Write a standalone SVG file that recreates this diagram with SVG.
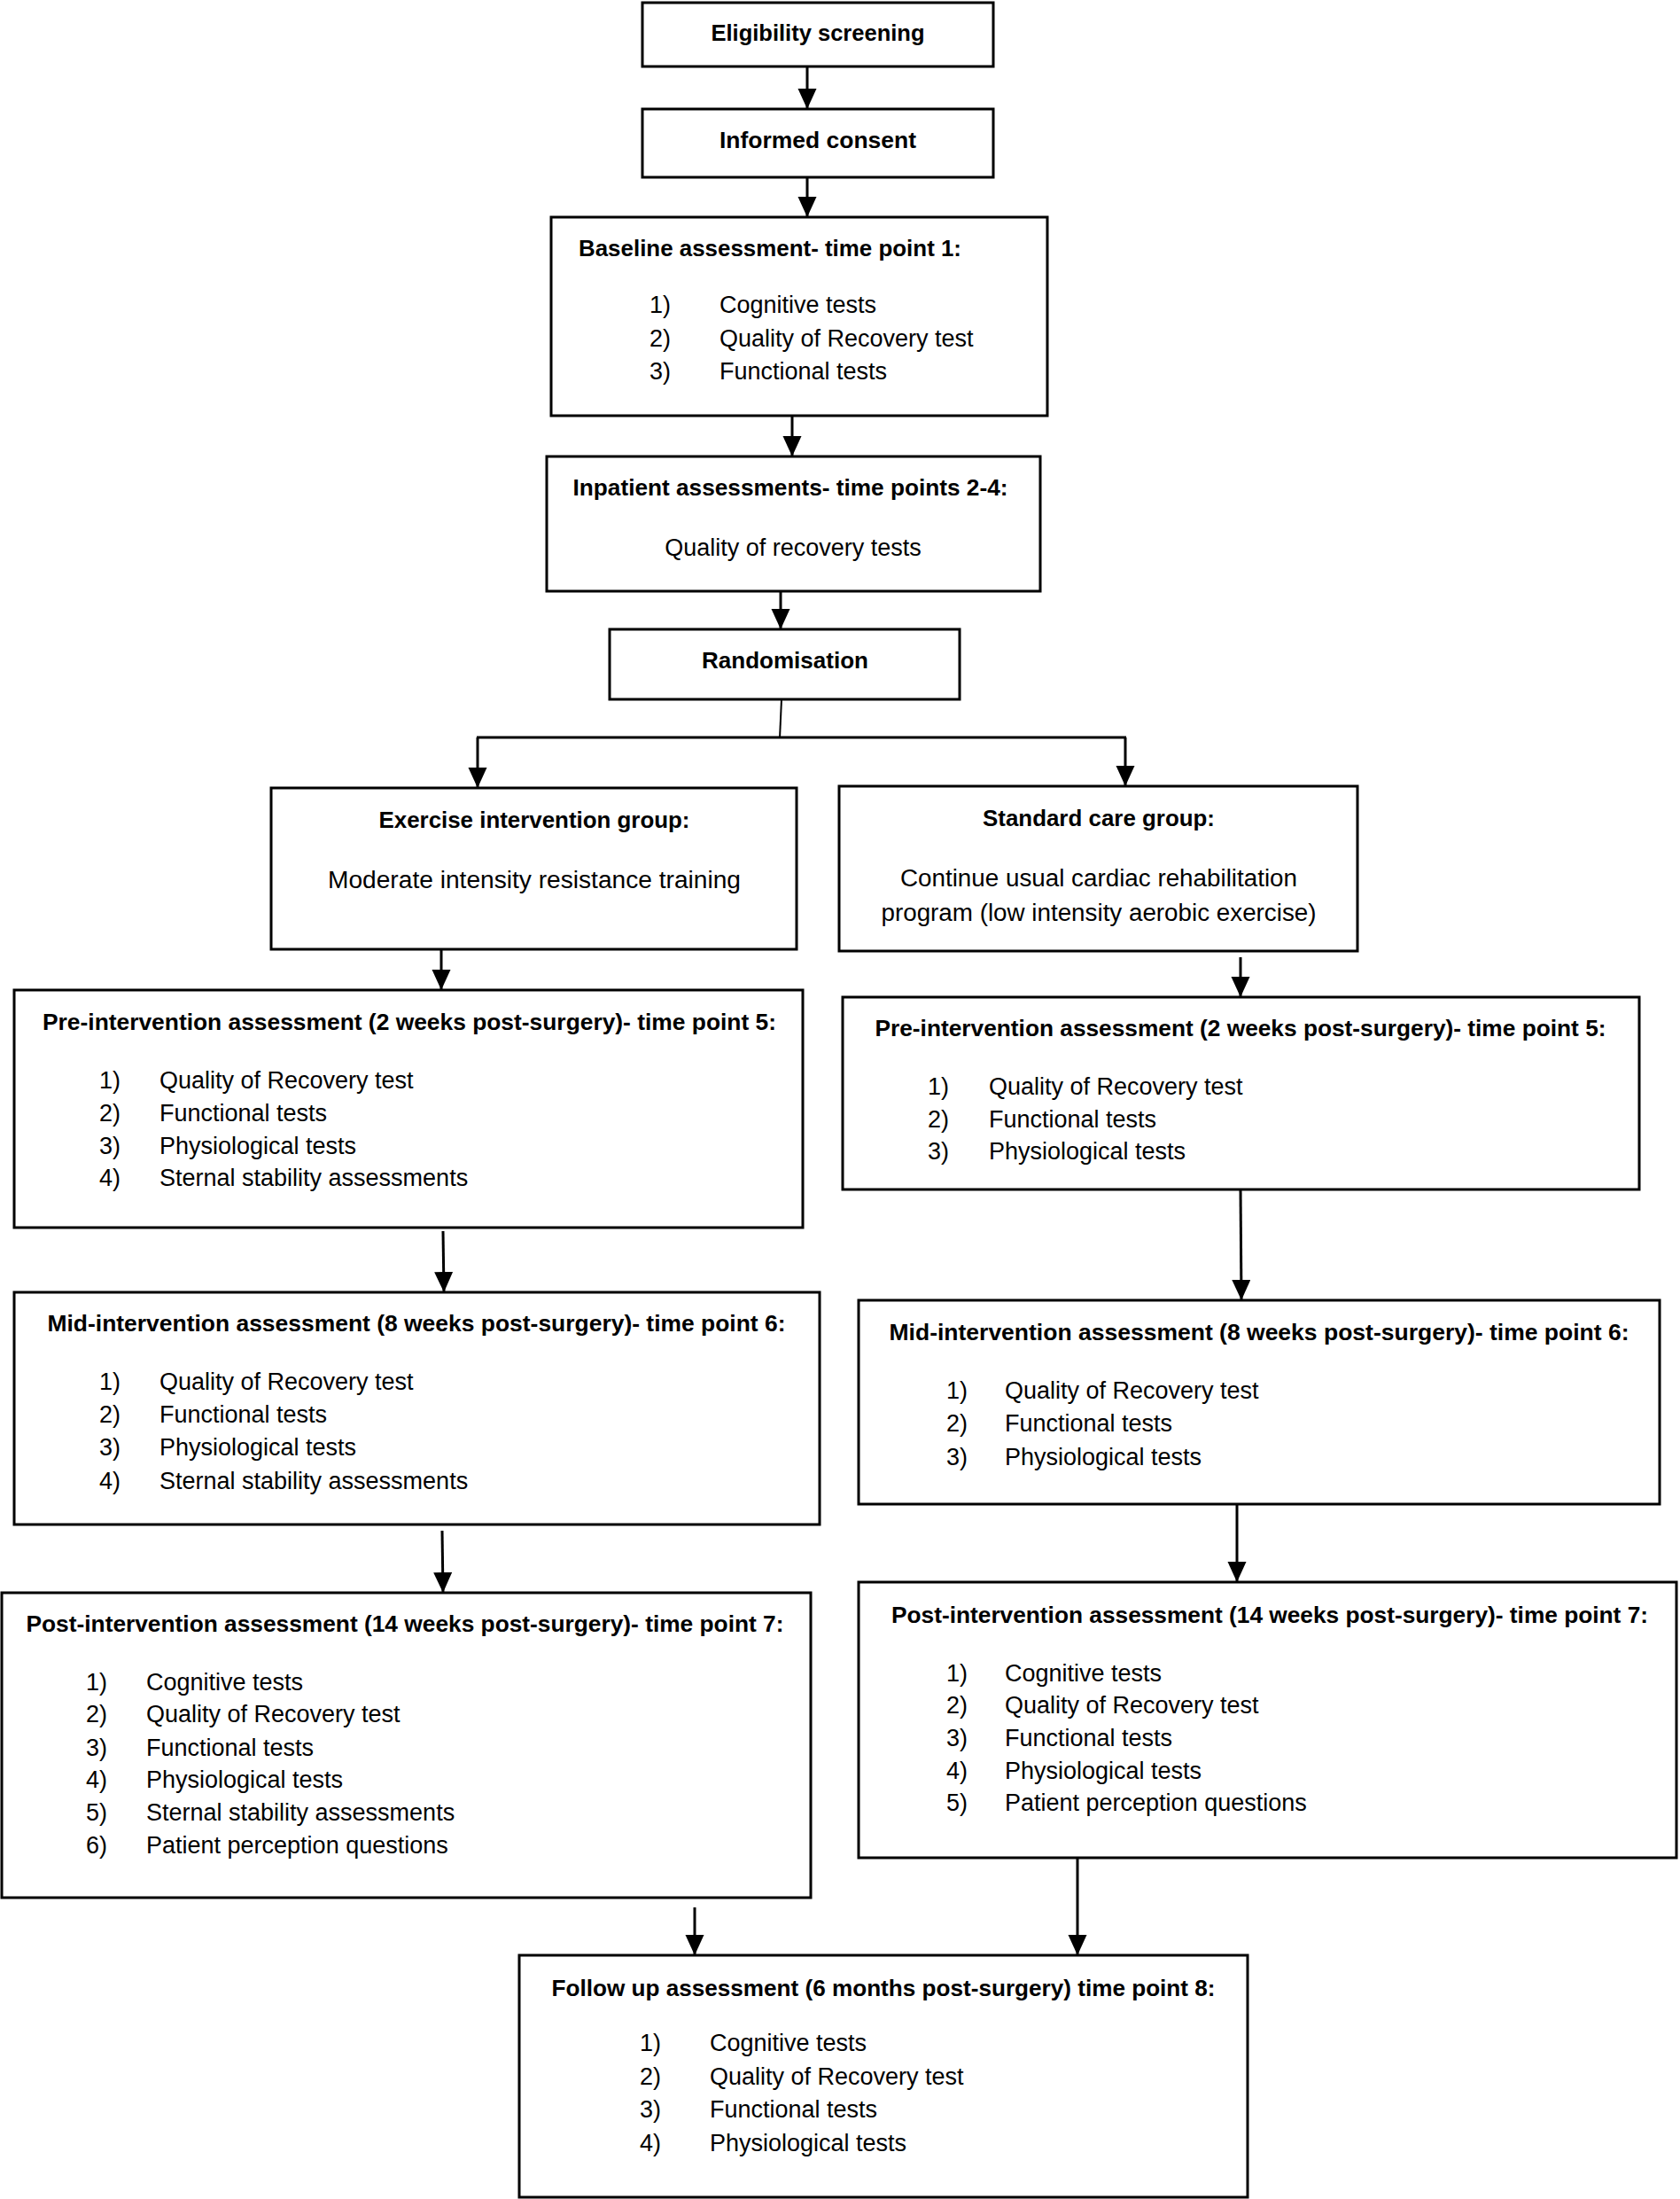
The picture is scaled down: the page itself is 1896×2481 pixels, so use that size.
<svg xmlns="http://www.w3.org/2000/svg" width="1896" height="2481" viewBox="0 0 1896 2481">
<style>
.box{fill:#fff;stroke:#000;stroke-width:3}
.t{font-family:"Liberation Sans",Arial,sans-serif;font-size:26px;font-weight:bold;fill:#000;text-anchor:middle}
.r{font-family:"Liberation Sans",Arial,sans-serif;font-size:27px;fill:#000}
.rc{font-family:"Liberation Sans",Arial,sans-serif;font-size:27px;fill:#000;text-anchor:middle}
.c{fill:none;stroke:#000;stroke-width:3}
</style>
<defs>
<marker id="ah" markerUnits="userSpaceOnUse" markerWidth="25" markerHeight="22" refX="23" refY="10.5" orient="auto" viewBox="0 0 25 22">
<path d="M0,0 L23,10.5 L0,21 z" fill="#000"/>
</marker>
</defs>
<rect width="1896" height="2481" fill="#fff"/>
<g id="connectors">
<line class="c" x1="911" y1="75" x2="911" y2="123" marker-end="url(#ah)"/>
<line class="c" x1="911" y1="200" x2="911" y2="245" marker-end="url(#ah)"/>
<line class="c" x1="894" y1="469" x2="894" y2="515" marker-end="url(#ah)"/>
<line class="c" x1="881" y1="667" x2="881" y2="710" marker-end="url(#ah)"/>
<line class="c" x1="882" y1="789" x2="880" y2="833" style="stroke-width:2"/>
<line class="c" x1="538" y1="832" x2="1271" y2="832"/>
<line class="c" x1="539" y1="832" x2="539" y2="889" marker-end="url(#ah)"/>
<line class="c" x1="1270" y1="832" x2="1270" y2="887" marker-end="url(#ah)"/>
<line class="c" x1="498" y1="1071" x2="498" y2="1117" marker-end="url(#ah)"/>
<line class="c" x1="1400" y1="1080" x2="1400" y2="1125" marker-end="url(#ah)"/>
<line class="c" x1="500" y1="1389" x2="501" y2="1458" marker-end="url(#ah)"/>
<line class="c" x1="1400" y1="1342" x2="1401" y2="1467" marker-end="url(#ah)"/>
<line class="c" x1="499" y1="1727" x2="500" y2="1797" marker-end="url(#ah)"/>
<line class="c" x1="1396" y1="1697" x2="1396" y2="1785" marker-end="url(#ah)"/>
<line class="c" x1="784" y1="2152" x2="784" y2="2206" marker-end="url(#ah)"/>
<line class="c" x1="1216" y1="2096" x2="1216" y2="2206" marker-end="url(#ah)"/>
</g>
<g id="n1">
<rect class="box" x="725" y="3" width="396" height="72"/>
<text class="t" x="923" y="46" textLength="241" lengthAdjust="spacingAndGlyphs">Eligibility screening</text>
</g>
<g id="n2">
<rect class="box" x="725" y="123" width="396" height="77"/>
<text class="t" x="923" y="167" textLength="222" lengthAdjust="spacingAndGlyphs">Informed consent</text>
</g>
<g id="n3">
<rect class="box" x="622" y="245" width="560" height="224"/>
<text class="t" x="869" y="289" textLength="432" lengthAdjust="spacingAndGlyphs">Baseline assessment- time point 1:</text>
<text class="r" x="733" y="353">1)</text><text class="r" x="812" y="353">Cognitive tests</text>
<text class="r" x="733" y="391">2)</text><text class="r" x="812" y="391">Quality of Recovery test</text>
<text class="r" x="733" y="428">3)</text><text class="r" x="812" y="428">Functional tests</text>
</g>
<g id="n4">
<rect class="box" x="617" y="515" width="557" height="152"/>
<text class="t" x="892" y="559" textLength="491" lengthAdjust="spacingAndGlyphs">Inpatient assessments- time points 2-4:</text>
<text class="rc" x="895" y="627">Quality of recovery tests</text>
</g>
<g id="n5">
<rect class="box" x="688" y="710" width="395" height="79"/>
<text class="t" x="886" y="754" textLength="188" lengthAdjust="spacingAndGlyphs">Randomisation</text>
</g>
<g id="n6">
<rect class="box" x="306" y="889" width="593" height="182"/>
<text class="t" x="603" y="934" textLength="351" lengthAdjust="spacingAndGlyphs">Exercise intervention group:</text>
<text class="rc" x="603" y="1002" textLength="466" lengthAdjust="spacingAndGlyphs">Moderate intensity resistance training</text>
</g>
<g id="n7">
<rect class="box" x="947" y="887" width="585" height="186"/>
<text class="t" x="1240" y="932" textLength="262" lengthAdjust="spacingAndGlyphs">Standard care group:</text>
<text class="rc" x="1240" y="1000" textLength="448" lengthAdjust="spacingAndGlyphs">Continue usual cardiac rehabilitation</text>
<text class="rc" x="1240" y="1039" textLength="491" lengthAdjust="spacingAndGlyphs">program (low intensity aerobic exercise)</text>
</g>
<g id="n8">
<rect class="box" x="16" y="1117" width="890" height="268"/>
<text class="t" x="462" y="1162" textLength="828" lengthAdjust="spacingAndGlyphs">Pre-intervention assessment (2 weeks post-surgery)- time point 5:</text>
<text class="r" x="112" y="1228">1)</text><text class="r" x="180" y="1228">Quality of Recovery test</text>
<text class="r" x="112" y="1265">2)</text><text class="r" x="180" y="1265">Functional tests</text>
<text class="r" x="112" y="1302">3)</text><text class="r" x="180" y="1302">Physiological tests</text>
<text class="r" x="112" y="1338">4)</text><text class="r" x="180" y="1338">Sternal stability assessments</text>
</g>
<g id="n9">
<rect class="box" x="951" y="1125" width="899" height="217"/>
<text class="t" x="1400" y="1169" textLength="825" lengthAdjust="spacingAndGlyphs">Pre-intervention assessment (2 weeks post-surgery)- time point 5:</text>
<text class="r" x="1047" y="1235">1)</text><text class="r" x="1116" y="1235">Quality of Recovery test</text>
<text class="r" x="1047" y="1272">2)</text><text class="r" x="1116" y="1272">Functional tests</text>
<text class="r" x="1047" y="1308">3)</text><text class="r" x="1116" y="1308">Physiological tests</text>
</g>
<g id="n10">
<rect class="box" x="16" y="1458" width="909" height="262"/>
<text class="t" x="470" y="1502" textLength="833" lengthAdjust="spacingAndGlyphs">Mid-intervention assessment (8 weeks post-surgery)- time point 6:</text>
<text class="r" x="112" y="1568">1)</text><text class="r" x="180" y="1568">Quality of Recovery test</text>
<text class="r" x="112" y="1605">2)</text><text class="r" x="180" y="1605">Functional tests</text>
<text class="r" x="112" y="1642">3)</text><text class="r" x="180" y="1642">Physiological tests</text>
<text class="r" x="112" y="1680">4)</text><text class="r" x="180" y="1680">Sternal stability assessments</text>
</g>
<g id="n11">
<rect class="box" x="969" y="1467" width="904" height="230"/>
<text class="t" x="1421" y="1512" textLength="835" lengthAdjust="spacingAndGlyphs">Mid-intervention assessment (8 weeks post-surgery)- time point 6:</text>
<text class="r" x="1068" y="1578">1)</text><text class="r" x="1134" y="1578">Quality of Recovery test</text>
<text class="r" x="1068" y="1615">2)</text><text class="r" x="1134" y="1615">Functional tests</text>
<text class="r" x="1068" y="1653">3)</text><text class="r" x="1134" y="1653">Physiological tests</text>
</g>
<g id="n12">
<rect class="box" x="2" y="1797" width="913" height="344"/>
<text class="t" x="457" y="1841" textLength="855" lengthAdjust="spacingAndGlyphs">Post-intervention assessment (14 weeks post-surgery)- time point 7:</text>
<text class="r" x="97" y="1907">1)</text><text class="r" x="165" y="1907">Cognitive tests</text>
<text class="r" x="97" y="1943">2)</text><text class="r" x="165" y="1943">Quality of Recovery test</text>
<text class="r" x="97" y="1981">3)</text><text class="r" x="165" y="1981">Functional tests</text>
<text class="r" x="97" y="2017">4)</text><text class="r" x="165" y="2017">Physiological tests</text>
<text class="r" x="97" y="2054">5)</text><text class="r" x="165" y="2054">Sternal stability assessments</text>
<text class="r" x="97" y="2091">6)</text><text class="r" x="165" y="2091">Patient perception questions</text>
</g>
<g id="n13">
<rect class="box" x="969" y="1785" width="923" height="311"/>
<text class="t" x="1433" y="1831" textLength="854" lengthAdjust="spacingAndGlyphs">Post-intervention assessment (14 weeks post-surgery)- time point 7:</text>
<text class="r" x="1068" y="1897">1)</text><text class="r" x="1134" y="1897">Cognitive tests</text>
<text class="r" x="1068" y="1933">2)</text><text class="r" x="1134" y="1933">Quality of Recovery test</text>
<text class="r" x="1068" y="1970">3)</text><text class="r" x="1134" y="1970">Functional tests</text>
<text class="r" x="1068" y="2007">4)</text><text class="r" x="1134" y="2007">Physiological tests</text>
<text class="r" x="1068" y="2043">5)</text><text class="r" x="1134" y="2043">Patient perception questions</text>
</g>
<g id="n14">
<rect class="box" x="586" y="2206" width="822" height="273"/>
<text class="t" x="997" y="2252" textLength="749" lengthAdjust="spacingAndGlyphs">Follow up assessment (6 months post-surgery) time point 8:</text>
<text class="r" x="722" y="2314">1)</text><text class="r" x="801" y="2314">Cognitive tests</text>
<text class="r" x="722" y="2352">2)</text><text class="r" x="801" y="2352">Quality of Recovery test</text>
<text class="r" x="722" y="2389">3)</text><text class="r" x="801" y="2389">Functional tests</text>
<text class="r" x="722" y="2427">4)</text><text class="r" x="801" y="2427">Physiological tests</text>
</g>
</svg>
